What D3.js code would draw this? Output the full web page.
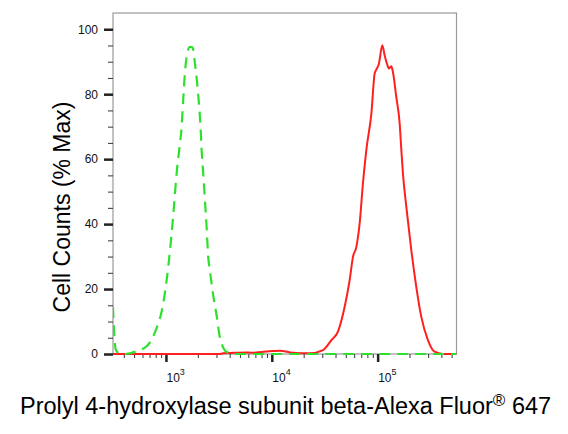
<!DOCTYPE html>
<html>
<head>
<meta charset="utf-8">
<script src="https://cdn.jsdelivr.net/npm/d3@7"></script>
<style>
  body { margin: 0; background: #fff; }
  text { font-family: Arial, "Liberation Sans", sans-serif; }
</style>
</head>
<body>
<div id="chart"></div>
<script>
// Colors
const control_color = "#2ee02e";
const sample_color = "#ff1f1f";

// Data: fluorescence intensity and % of max
const controlIntensity = [316, 323, 337, 368, 410, 532, 676, 822, 916, 1052, 1132, 1189, 1262, 1334, 1406, 1455, 1510, 1589, 1683, 1786, 1879, 1972, 2061, 2123, 2173, 2249, 2333, 2421, 2506, 2600, 2773, 3027, 3228, 3758, 4477, 10000, 100000, 556000];
const controlCounts = [14.5, 7.4, 1.2, 0, 0, 0.9, 2.8, 8.3, 13.5, 26.9, 37.2, 45.3, 55.7, 62.8, 69.9, 78.2, 86.5, 92.6, 94.6, 94.4, 89.5, 83.4, 76.1, 69.9, 62.8, 55.7, 47.4, 39.2, 29.9, 25.8, 18.8, 11.4, 5.2, 0.6, 0, 0, 0, 0];

const sampleIntensity = [316, 3162, 3467, 3981, 5623, 6427, 10209, 11885, 15776, 22803, 30479, 36559, 42170, 48865, 54450, 58479, 62951, 67608, 72611, 78163, 87297, 93756, 97275, 102802, 110662, 116413, 122462, 127938, 134586, 139316, 149968, 161436, 167494, 173380, 186638, 207970, 231739, 258226, 298538, 345144, 413048, 556000];
const sampleCounts = [0, 0, 0.2, 0.3, 0.5, 0.4, 0.9, 1.0, 0.4, 0.2, 1.2, 4.3, 6.9, 14.6, 22.8, 29.9, 33.0, 40.2, 52.5, 62.8, 74.1, 86.4, 87.6, 89.4, 95.1, 92.0, 89.4, 87.9, 88.6, 86.9, 79.2, 71.0, 62.8, 55.6, 45.3, 32.0, 20.7, 11.5, 4.3, 0.7, 0, 0];

// Ticks
const xMajorTicks = [1e3, 1e4, 1e5];
const xMajorExponents = ["3", "4", "5"];
const xMinorTicks = [400, 500, 600, 700, 800, 900,
  2000, 3000, 4000, 5000, 6000, 7000, 8000, 9000,
  20000, 30000, 40000, 50000, 60000, 70000, 80000, 90000,
  200000, 300000, 400000, 500000];
const yMajorTicks = [0, 20, 40, 60, 80, 100];
const yMinorTicks = [5, 10, 15, 25, 30, 35, 45, 50, 55, 65, 70, 75, 85, 90, 95];

// Set up dimensions
const width = 568;
const height = 434;
const plot = { left: 113, right: 456.5, top: 13, bottom: 354 };

const svg = d3.select("#chart")
  .append("svg")
  .attr("width", width)
  .attr("height", height);

// Scales
const xScale = d3.scaleLog()
  .domain([316, 556000])
  .range([plot.left, plot.right]);

const yScale = d3.scaleLinear()
  .domain([0, 105])
  .range([plot.bottom, plot.top]);

// Clip for the curves
svg.append("defs").append("clipPath")
  .attr("id", "plot-clip")
  .append("rect")
  .attr("x", plot.left)
  .attr("y", plot.top - 2)
  .attr("width", plot.right - plot.left)
  .attr("height", plot.bottom - plot.top + 4);

// Frame
svg.append("rect")
  .attr("x", plot.left)
  .attr("y", plot.top)
  .attr("width", plot.right - plot.left)
  .attr("height", plot.bottom - plot.top)
  .attr("fill", "none")
  .attr("stroke", "#9a9a9a")
  .attr("stroke-width", 1.2);

// Y axis: major and minor ticks
svg.append("g")
  .attr("transform", `translate(${plot.left},0)`)
  .call(d3.axisLeft(yScale).tickValues(yMinorTicks).tickSize(5).tickFormat(""))
  .call(g => g.select(".domain").remove())
  .call(g => g.selectAll(".tick line").attr("stroke", "#333").attr("stroke-width", 1));

svg.append("g")
  .attr("transform", `translate(${plot.left},0)`)
  .call(d3.axisLeft(yScale).tickValues(yMajorTicks).tickSize(9).tickPadding(6))
  .call(g => g.select(".domain").remove())
  .call(g => g.selectAll(".tick line").attr("stroke", "#222").attr("stroke-width", 2.5))
  .call(g => g.selectAll(".tick text")
    .attr("fill", "#111")
    .style("font-size", "12px")
    .style("font-family", "Arial, 'Liberation Sans', sans-serif"));

// X axis: major and minor ticks
svg.append("g")
  .attr("transform", `translate(0,${plot.bottom})`)
  .call(d3.axisBottom(xScale).tickValues(xMinorTicks).tickSize(4).tickFormat(""))
  .call(g => g.select(".domain").remove())
  .call(g => g.selectAll(".tick line").attr("stroke", "#333").attr("stroke-width", 1));

svg.append("g")
  .attr("transform", `translate(0,${plot.bottom})`)
  .call(d3.axisBottom(xScale).tickValues(xMajorTicks).tickSize(8).tickFormat(""))
  .call(g => g.select(".domain").remove())
  .call(g => g.selectAll(".tick line").attr("stroke", "#222").attr("stroke-width", 2.5));

// Decade labels 10^n
const xLabels = svg.selectAll(".x-label")
  .data(xMajorTicks)
  .enter().append("text")
  .attr("class", "x-label")
  .attr("x", d => xScale(d) + 0.5)
  .attr("y", plot.bottom + 28)
  .attr("fill", "#111")
  .style("font-size", "12px");

xLabels.append("tspan").text("10");
xLabels.append("tspan")
  .attr("dy", -7)
  .style("font-size", "9px")
  .text((d, i) => xMajorExponents[i]);

// Line generator
const line = d3.line()
  .x(d => xScale(d[0]))
  .y(d => yScale(d[1]))
  .curve(d3.curveMonotoneX);

const curves = svg.append("g").attr("clip-path", "url(#plot-clip)");

// Stained sample
curves.append("path")
  .datum(d3.zip(sampleIntensity, sampleCounts))
  .attr("d", line)
  .attr("fill", "none")
  .attr("stroke", sample_color)
  .attr("stroke-width", 2)
  .attr("stroke-linejoin", "round");

// Isotype control (dashed)
curves.append("path")
  .datum(d3.zip(controlIntensity, controlCounts))
  .attr("d", line)
  .attr("fill", "none")
  .attr("stroke", control_color)
  .attr("stroke-width", 2.2)
  .attr("stroke-dasharray", "11,7");

// Axis titles
svg.append("text")
  .attr("text-anchor", "middle")
  .attr("transform", `translate(70,207) rotate(-90)`)
  .attr("fill", "#000")
  .style("font-size", "23px")
  .text("Cell Counts (% Max)");

const xTitle = svg.append("text")
  .attr("x", 20)
  .attr("y", 414)
  .attr("fill", "#000")
  .style("font-size", "23.5px");

xTitle.append("tspan").text("Prolyl 4-hydroxylase subunit beta-Alexa Fluor");
xTitle.append("tspan")
  .attr("dy", -8)
  .style("font-size", "17px")
  .text("®");
xTitle.append("tspan")
  .attr("dy", 8)
  .text(" 647");
</script>
</body>
</html>
